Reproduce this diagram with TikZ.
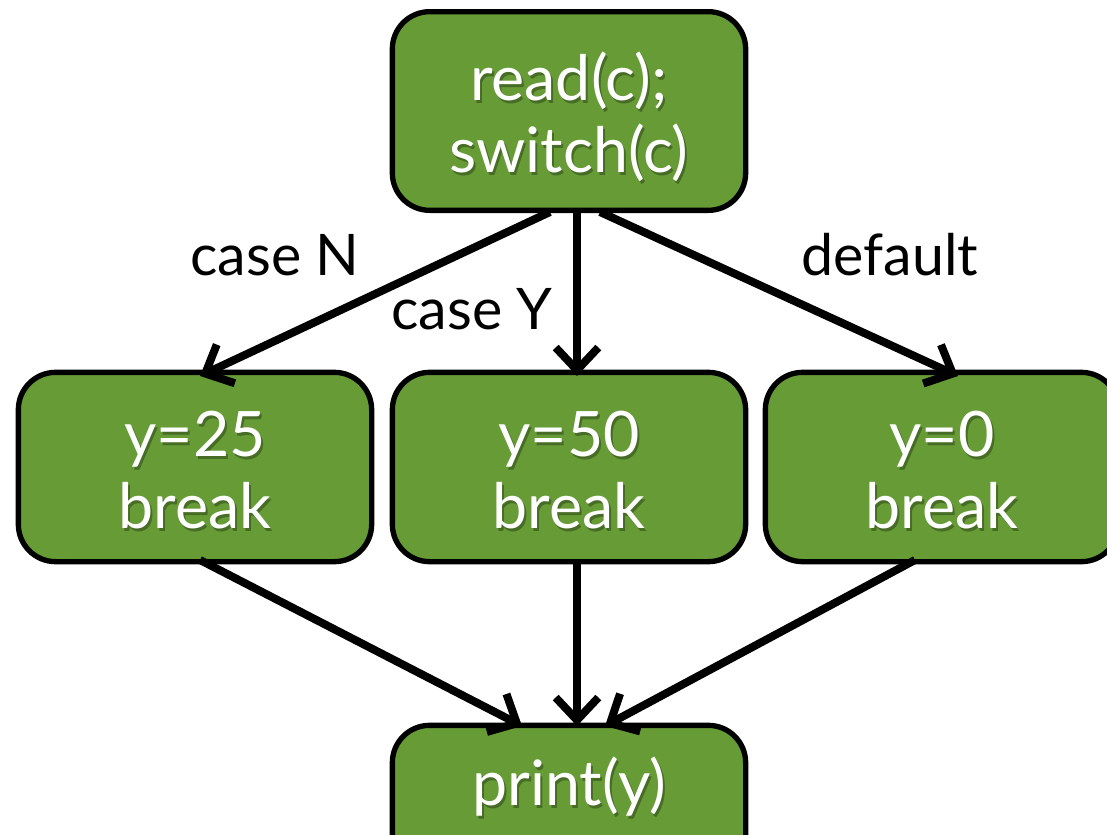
\documentclass[tikz,border=0pt]{standalone}
\usepackage{fontspec}
\setmainfont{Lato}
\usetikzlibrary{arrows.meta}
\definecolor{boxgreen}{RGB}{102,155,54}
\tikzset{
  box/.style={draw=black, line width=4pt, fill=boxgreen, rounded corners=28pt,
    minimum width=265pt, minimum height=#1, inner sep=0pt},
  box/.default=142pt,
  boxtxt/.style={text=white, align=center, font=\fontsize{47}{54}\selectfont, inner sep=0pt},
  shadowtxt/.style={boxtxt, text=black, text opacity=0.3},
  lbl/.style={text=black, font=\fontsize{43}{48}\selectfont, inner sep=0pt, anchor=base},
  flow/.style={line width=6pt, -{Straight Barb[length=17pt,width=32pt,line width=6pt]}}
}
% white box text over a faint drop shadow
\newcommand\boxlabel[3]{%
  \node[shadowtxt] (#1s) at ([shift={(2,3)}]#2) {#3};
  \node[boxtxt] (#1) at (#2) {#3};}
\begin{document}
\begin{tikzpicture}[x=0.75pt,y=-0.75pt]
  \useasboundingbox (0,0) rectangle (1107,835);
  \clip (0,0) rectangle (1107,835);
  % boxes
  \node[box=149pt] (sw) at (569,111) {};
  \node[box] (c25) at (195,467) {};
  \node[box] (c50) at (569,467) {};
  \node[box] (c0) at (942,467) {};
  \node[box] (pr) at (569,820) {};
  \coordinate (swText) at (569,117);
  \coordinate (c25Text) at (195,470);
  \coordinate (c50Text) at (569,470);
  \coordinate (c0Text) at (942,470);
  \coordinate (prText) at (569,787);
  % anchors for the connectors
  \coordinate (swL) at (550,212);
  \coordinate (swM) at (577,212);
  \coordinate (swR) at (600,212);
  \coordinate (c25T) at (200,376);
  \coordinate (c50T) at (577,376);
  \coordinate (c0T) at (958,376);
  \coordinate (c25B) at (200,560);
  \coordinate (c50B) at (577,560);
  \coordinate (c0B) at (915,560);
  \coordinate (prL) at (522,726);
  \coordinate (prM) at (577,726);
  \coordinate (prR) at (605,726);
  % connectors
  \draw[flow] (swL) -- (c25T);
  \draw[flow] (swM) -- (c50T);
  \draw[flow] (swR) -- (c0T);
  \draw[flow] (c25B) -- (prL);
  \draw[flow] (c50B) -- (prM);
  \draw[flow] (c0B) -- (prR);
  % box texts
  \boxlabel{tsw}{swText}{read(c);\\switch(c)}
  \boxlabel{t25}{c25Text}{y=25\\break}
  \boxlabel{t50}{c50Text}{y=50\\break}
  \boxlabel{t0}{c0Text}{y=0\\break}
  \boxlabel{tpr}{prText}{print(y)}
  % edge labels
  \node[lbl] (lN) at (275,275) {case N};
  \node[lbl] (lY) at (472,329) {case Y};
  \node[lbl] (lD) at (890,275) {default};
\end{tikzpicture}
\end{document}
